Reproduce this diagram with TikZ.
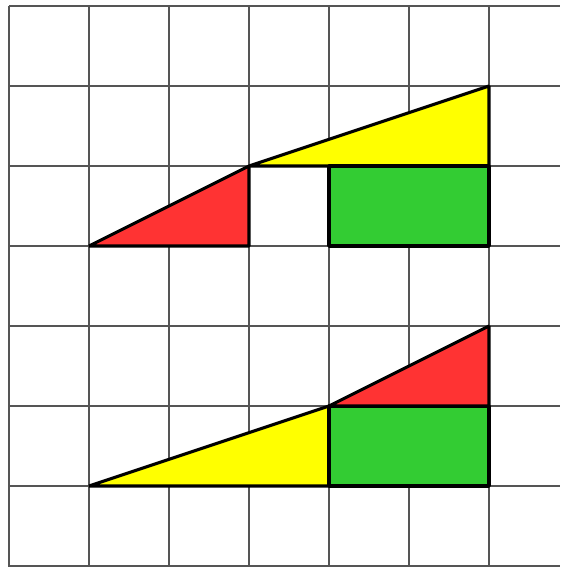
\documentclass[tikz,border=0pt]{standalone}
\usepackage{tikz}
\usetikzlibrary{calc}

\definecolor{piecered}{HTML}{FF3333}
\definecolor{pieceyellow}{HTML}{FFFF00}
\definecolor{piecegreen}{HTML}{33CC33}
\definecolor{gridgray}{HTML}{555555}

\begin{document}
\begin{tikzpicture}[
  x=1cm, y=1cm,
  gridline/.style={draw=gridgray, line width=0.75pt},
  piece/.style={draw=black, line width=1.1pt, line join=bevel},
  redpiece/.style={piece, fill=piecered},
  yellowpiece/.style={piece, fill=pieceyellow},
  greenpiece/.style={piece, fill=piecegreen},
]
\useasboundingbox (-0.1125,-0.0125) rectangle (6.8875,7.075);

% Grid
\foreach \gx in {0,...,6}
  \draw[gridline] (\gx,-0.0125) -- (\gx,7);
\foreach \gy in {0,...,7}
  \draw[gridline] (0,\gy) -- (6.8875,\gy);

% Upper figure: red, yellow, green (with the missing square between)
\coordinate (u_a) at (1,4);
\coordinate (u_b) at (3,5);
\coordinate (u_c) at (6,6);
\filldraw[redpiece]    (u_a) -- (u_b) -- (3,4) -- cycle;
\filldraw[yellowpiece] (u_b) -- (u_c) -- (6,5) -- cycle;
\filldraw[greenpiece]  (4,4) rectangle (6,5);

% Lower figure: yellow, green, red
\coordinate (l_a) at (1,1);
\coordinate (l_b) at (4,2);
\coordinate (l_c) at (6,3);
\filldraw[yellowpiece] (l_a) -- (l_b) -- (4,1) -- cycle;
\filldraw[greenpiece]  (4,1) rectangle (6,2);
\filldraw[redpiece]    (l_b) -- (l_c) -- (6,2) -- cycle;

\end{tikzpicture}
\end{document}
